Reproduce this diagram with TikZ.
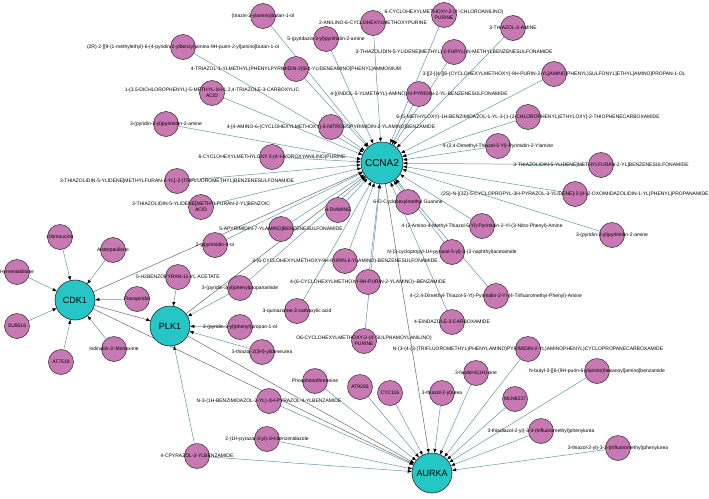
\documentclass[tikz,border=0pt]{standalone}
\usepackage{fontspec}
\setmainfont{Liberation Sans}
\usetikzlibrary{arrows.meta,backgrounds}
\definecolor{drugfill}{RGB}{200,120,178}
\definecolor{hubfill}{RGB}{38,198,198}
\definecolor{edgeblue}{RGB}{98,150,172}
\definecolor{edgegray}{RGB}{105,105,105}
\tikzset{
 drug/.style={circle,draw=black!85,line width=0.5pt,fill=drugfill,minimum size=25pt,inner sep=0pt},
 hub/.style={circle,draw=black!85,line width=0.6pt,fill=hubfill,minimum size=40pt,inner sep=0pt},
 hublab/.style={font=\fontsize{9}{11}\selectfont,inner sep=0pt},
 lab/.style={font=\fontsize{5}{6}\selectfont,inner sep=0pt,align=center,text=black},
 dedge/.style={draw=edgeblue,line width=0.5pt,-{Triangle[length=4pt,width=3pt,color=black]}},
 hedge/.style={draw=edgegray,line width=0.5pt,-{Triangle[length=4pt,width=3pt,color=black]}},
}
\begin{document}
\begin{tikzpicture}[x=1pt,y=-1pt]
\useasboundingbox (0,0) rectangle (709,498);
% hubs
\node[hub,minimum size=42pt] (ccna2) at (382,163) {};
\node[hub] (cdk1) at (75,300) {};
\node[hub] (plk1) at (170,326) {};
\node[hub] (aurka) at (432,473) {};
% drugs
\node[drug] (d1) at (263,16) {};
\node[drug] (d2) at (373,23) {};
\node[drug] (d3) at (444,15) {};
\node[drug] (d4) at (326,39) {};
\node[drug] (d5) at (513,28) {};
\node[drug] (d6) at (454,52) {};
\node[drug] (d7) at (183,47) {};
\node[drug] (d8) at (296,69) {};
\node[drug] (d9) at (554,74) {};
\node[drug] (d10) at (212,93) {};
\node[drug] (d11) at (419,94) {};
\node[drug] (d12) at (528,117) {};
\node[drug] (d13) at (166,124) {};
\node[drug] (d14) at (331,127) {};
\node[drug] (d15) at (498,146) {};
\node[drug] (d16) at (272,157) {};
\node[drug] (d17) at (601,165) {};
\node[drug] (d18) at (177,181) {};
\node[drug] (d19) at (575,194) {};
\node[drug] (d20) at (201,207) {};
\node[drug] (d21) at (408,202) {};
\node[drug] (d22) at (338,210) {};
\node[drug] (d23) at (612,235) {};
\node[drug] (d24) at (482,226) {};
\node[drug] (d25) at (281,229) {};
\node[drug] (d26) at (215,245) {};
\node[drug] (d27) at (452,252) {};
\node[drug] (d28) at (345,261) {};
\node[drug] (d29) at (178,277) {};
\node[drug] (d30) at (137,299) {};
\node[drug] (d31) at (368,282) {};
\node[drug] (d32) at (496,296) {};
\node[drug] (d33) at (240,288) {};
\node[drug] (d34) at (452,322) {};
\node[drug] (d35) at (297,311) {};
\node[drug] (d36) at (240,327) {};
\node[drug] (d37) at (364,341) {};
\node[drug] (d38) at (528,349) {};
\node[drug] (d39) at (262,352) {};
\node[drug] (d40) at (476,373) {};
\node[drug] (d41) at (597,371) {};
\node[drug] (d42) at (315,381) {};
\node[drug] (d43) at (360,387) {};
\node[drug] (d44) at (390,393) {};
\node[drug] (d45) at (442,393) {};
\node[drug] (d46) at (515,399) {};
\node[drug] (d47) at (269,401) {};
\node[drug] (d48) at (541,431) {};
\node[drug] (d49) at (267,439) {};
\node[drug] (d50) at (618,448) {};
\node[drug] (d51) at (197,456) {};
\node[drug] (d52) at (60,237) {};
\node[drug] (d53) at (113,250) {};
\node[drug] (d54) at (17,272) {};
\node[drug] (d55) at (17,326) {};
\node[drug] (d56) at (61,362) {};
\node[drug] (d57) at (114,349) {};
% edges
\begin{scope}[on background layer]
\foreach \i in {1,...,28,31,32,33,34,35,37}{\draw[dedge] (d\i) -- (ccna2);}
\foreach \i in {29,33,36,39,51}{\draw[dedge] (d\i) -- (plk1);}
\foreach \i in {30,52,53,54,55,56,57}{\draw[dedge] (d\i) -- (cdk1);}
\foreach \i in {38,40,41,42,43,44,45,46,47,48,49,50,51}{\draw[dedge] (d\i) -- (aurka);}
\draw[hedge] (cdk1) -- (ccna2);
\draw[hedge] (cdk1) -- (plk1);
\draw[hedge] (cdk1) -- (aurka);
\draw[hedge] (plk1) -- (ccna2);
\draw[hedge] (plk1) -- (aurka);
\draw[hedge] (ccna2) -- (aurka);
\end{scope}
% hub labels
\node[hublab,font=\fontsize{10}{12}\selectfont] (tccna2) at (ccna2) {CCNA2};
\node[hublab] (tcdk1) at (cdk1) {CDK1};
\node[hublab] (tplk1) at (plk1) {PLK1};
\node[hublab] (taurka) at (aurka) {AURKA};
% drug labels
\node[lab] (t1) at (d1) {(triazin-2-ylamino)butan-1-ol};
\node[lab] (t2) at (d2) {2-ANILINO-6-CYCLOHEXYLMETHOXYPURINE};
\node[lab] (t3) at (d3) {6-CYCLOHEXYLMETHOXY-2-(4'-CHLOROANILINO)\\PURINE};
\node[lab] (t4) at (d4) {5-(pyridazin-3-yl)pyrimidin-2-amine};
\node[lab] (t5) at (d5) {3-THIAZOL-2-AMINE};
\node[lab] (t6) at (d6) {3-THIAZOLIDIN-5-YLIDENE]METHYL]-2-FURYL]-N-METHYLBENZENESULFONAMIDE};
\node[lab] (t7) at (d7) {(2R)-2-[[9-(1-methylethyl)-6-(4-pyridin-2-ylbenzyl)amino-9H-purin-2-yl]amino]butan-1-ol};
\node[lab] (t8) at (d8) {4-TRIAZOL-1-YLMETHYL)PHENYLPYRIMIDIN-2(5H)-YLIDENEAMINO]PHENYL]AMMONIUM};
\node[lab] (t9) at (d9) {3-[[2-[(4-[[6-(CYCLOHEXYLMETHOXY)-9H-PURIN-2-YL]AMINO]PHENYL)SULFONYL]ETHYL]AMINO]PROPAN-1-OL};
\node[lab] (t10) at (d10) {1-(3,5-DICHLOROPHENYL)-5-METHYL-1H-1,2,4-TRIAZOLE-3-CARBOXYLIC\\ACID};
\node[lab] (t11) at (d11) {4-[(INDOL-5-YLMETHYL)-AMINO]-N-PYRIDIN-2-YL-BENZENESULFONAMIDE};
\node[lab] (t12) at (d12) {6-(5-METHYLOXY)-1H-BENZIMIDAZOL-1-YL-3-[1-(2-CHLOROPHENYL)ETHYLOXY]-2-THIOPHENECARBOXAMIDE};
\node[lab] (t13) at (d13) {3-(pyridin-3-yl)pyrimidin-2-amine};
\node[lab] (t14) at (d14) {4-[4-AMINO-6-(CYCLOHEXYLMETHOXY)-5-NITROSOPYRIMIDIN-2-YLAMINO]BENZAMIDE};
\node[lab] (t15) at (d15) {4-(2,4-Dimethyl-Thiazol-5-Yl)-Pyrimidin-2-Ylamine};
\node[lab] (t16) at (d16) {6-CYCLOHEXYLMETHYLOXY-2-(4'-HYDROXYANILINO)PURINE};
\node[lab] (t17) at (d17) {3-THIAZOLIDIN-5-YLIDENE]METHYLFURAN-2-YL]BENZENESULFONAMIDE};
\node[lab] (t18) at (d18) {3-THIAZOLIDIN-5-YLIDENE]METHYLFURAN-2-YL]-2-(TRIFLUOROMETHYL)BENZENESULFONAMIDE};
\node[lab] (t19) at (d19) {(2S)-N-[(3Z)-5-CYCLOPROPYL-3H-PYRAZOL-3-YLIDENE]-2-[4-(2-OXOIMIDAZOLIDIN-1-YL)PHENYL]PROPANAMIDE};
\node[lab] (t20) at (d20) {3-THIAZOLIDIN-5-YLIDENE]METHYLFURAN-2-YL]BENZOIC\\ACID};
\node[lab] (t21) at (d21) {6-O-Cyclohexylmethyl Guanine};
\node[lab] (t22) at (d22) {4-DIAMINE};
\node[lab] (t23) at (d23) {3-(pyridin-3-yl)pyrimidin-2-amine};
\node[lab] (t24) at (d24) {4-(2-Amino-4-Methyl-Thiazol-5-Yl)-Pyrimidin-2-Yl-(3-Nitro-Phenyl)-Amine};
\node[lab] (t25) at (d25) {5-APYRIMIDIN-7-YLAMINO]BENZENESULFONAMIDE};
\node[lab] (t26) at (d26) {2-ylpyrimidin-4-ol};
\node[lab] (t27) at (d27) {N-(3-cyclopropyl-1H-pyrazol-5-yl)-2-(2-naphthyl)acetamide};
\node[lab] (t28) at (d28) {3-(6-CYCLOHEXYLMETHOXY-9H-PURIN-2-YLAMINO)-BENZENESULFONAMIDE};
\node[lab] (t29) at (d29) {5-H2BENZOPYRAN-11-YL ACETATE};
\node[lab] (t30) at (d30) {Flavopiridol};
\node[lab] (t31) at (d31) {4-(6-CYCLOHEXYLMETHOXY-9H-PURIN-2-YLAMINO)--BENZAMIDE};
\node[lab] (t32) at (d32) {4-(2,4-Dimethyl-Thiazol-5-Yl)-Pyrimidin-2-Yl-(4-Trifluoromethyl-Phenyl)-Amine};
\node[lab] (t33) at (d33) {3-(pyridin-3-yl)phenylpropanamide};
\node[lab] (t34) at (d34) {4-EINDAZOLE-3-CARBOXAMIDE};
\node[lab] (t35) at (d35) {3-quinazoline-3-carboxylic acid};
\node[lab] (t36) at (d36) {3-(pyridin-3-yl)phenyl)propan-1-ol};
\node[lab] (t37) at (d37) {O6-CYCLOHEXYLMETHOXY-2-(4'-SULPHAMOYLANILINO)\\PURINE};
\node[lab] (t38) at (d38) {N-(3-(4-(3-(TRIFLUOROMETHYL)PHENYLAMINO)PYRIMIDIN-2-YL)AMINOPHENYL)CYCLOPROPANECARBOXAMIDE};
\node[lab] (t39) at (d39) {3-thiazol-2(3H)-ylideneurea};
\node[lab] (t40) at (d40) {3-fasdol-6(1H)-one};
\node[lab] (t41) at (d41) {N-butyl-3-[[6-(9H-purin-6-ylamino)hexanoyl]amino]benzamide};
\node[lab] (t42) at (d42) {Phosphonothreonine};
\node[lab] (t43) at (d43) {AT9283};
\node[lab] (t44) at (d44) {CYC116};
\node[lab] (t45) at (d45) {3-thiazol-2-yl)urea};
\node[lab] (t46) at (d46) {MLN8237};
\node[lab] (t47) at (d47) {N-3-(1H-BENZIMIDAZOL-2-YL)-1H-PYRAZOL-4-YLBENZAMIDE};
\node[lab] (t48) at (d48) {3-thiadiazol-2-yl)-3-3-(trifluoromethyl)phenylurea};
\node[lab] (t49) at (d49) {2-(1H-pyrazol-3-yl)-1H-benzimidazole};
\node[lab] (t50) at (d50) {3-thiazol-2-yl)-3-3-(trifluoromethyl)phenylurea};
\node[lab] (t51) at (d51) {4-CPYRAZOL-3-YLBENZAMIDE};
\node[lab] (t52) at (d52) {Olomoucine};
\node[lab] (t53) at (d53) {Alsterpaullone};
\node[lab] (t54) at (d54) {Hymenialdisine};
\node[lab] (t55) at (d55) {SU9516};
\node[lab] (t56) at (d56) {AT7519};
\node[lab] (t57) at (d57) {Indirubin-3'-Monoxime};
\end{tikzpicture}
\end{document}
